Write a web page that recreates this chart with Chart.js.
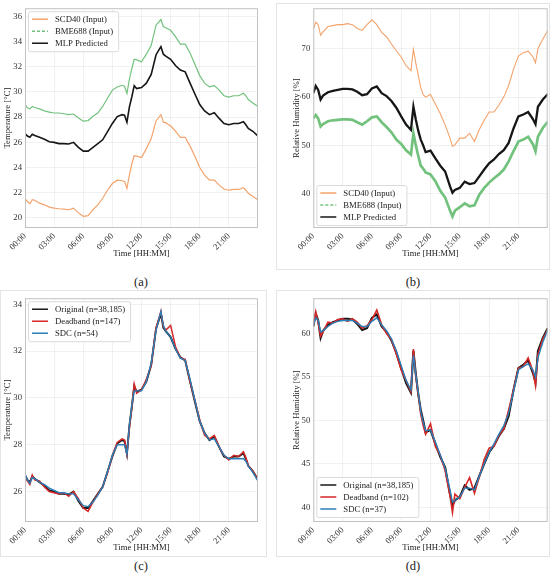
<!DOCTYPE html>
<html>
<head>
<meta charset="utf-8">
<script src="https://cdn.jsdelivr.net/npm/chart.js@4.4.1/dist/chart.umd.min.js"></script>
<style>
  html, body { margin: 0; padding: 0; background: #fff; }
  #page { position: relative; width: 550px; height: 584px; overflow: hidden; }
  canvas { position: absolute; }
  .frame { position: absolute; border: 1px solid #e4e4e4; box-sizing: border-box; }
  .sub { position: absolute; width: 60px; margin-left: -30px; line-height: 16px; text-align: center;
         font: 12.5px "Liberation Serif", serif; color: #222; }
</style>
</head>
<body>
<div id="page">
  <div class="frame" style="left:276px;top:3px;width:274px;height:267px"></div>
  <div class="frame" style="left:0;top:290px;width:267px;height:267px"></div>
  <div class="frame" style="left:276px;top:290px;width:274px;height:267px"></div>

  <canvas id="chartA" width="268" height="262" style="left:0;top:0"></canvas>
  <canvas id="chartB" width="274" height="262" style="left:276px;top:0"></canvas>
  <canvas id="chartC" width="268" height="266" style="left:0;top:290px"></canvas>
  <canvas id="chartD" width="274" height="266" style="left:276px;top:290px"></canvas>

  <div class="sub" style="left:141px;top:275px">(a)</div>
  <div class="sub" style="left:413px;top:275px">(b)</div>
  <div class="sub" style="left:141px;top:559px">(c)</div>
  <div class="sub" style="left:413px;top:559px">(d)</div>
</div>

<script>
// hora do dia (eixo x comum aos quatro gráficos)
const hours = [
  0, 0.25, 0.5, 0.75, 1,
  1.5, 2, 2.5, 3, 3.5, 4, 4.5, 5, 5.5,
  6, 6.5, 7, 7.5, 8, 8.5, 9, 9.5, 10,
  10.25, 10.5, 10.75, 11, 11.25, 11.5, 12,
  12.5, 13, 13.5, 14, 14.25, 14.5, 15, 15.5, 16,
  16.5, 17, 17.5, 18, 18.5, 19, 19.5, 20, 20.5,
  21, 21.5, 22, 22.5, 22.75, 23, 23.5, 24
];
const xTicks = [0, 3, 6, 9, 12, 15, 18, 21];

// (a) temperatura [°C]
const tempScd = [
  21.56, 21.30, 21.12, 21.45, 21.40,
  21.17, 21.04, 20.86, 20.78, 20.73, 20.70, 20.65, 20.78, 20.40,
  20.13, 20.18, 20.65, 21.04, 21.56, 22.20, 22.73, 23.00, 22.95,
  22.90, 22.34, 23.40, 24.30, 24.94, 24.90, 24.80,
  25.50, 26.30, 27.70, 28.20, 27.60, 27.55, 27.30, 26.90, 26.40,
  26.40, 25.70, 24.90, 24.00, 23.40, 23.00, 23.00, 22.60, 22.30,
  22.20, 22.26, 22.26, 22.40, 22.20, 21.95, 21.70, 21.43
];
const tempBme = [
  28.98, 28.75, 28.66, 28.85, 28.77,
  28.66, 28.50, 28.40, 28.33, 28.33, 28.27, 28.20, 28.25, 27.94,
  27.68, 27.73, 28.07, 28.33, 28.85, 29.50, 30.15, 30.40, 30.53,
  30.45, 29.88, 31.00, 31.84, 32.60, 32.55, 32.40,
  33.00, 33.70, 35.30, 35.75, 35.20, 35.10, 34.90, 34.40, 33.80,
  33.80, 33.10, 32.20, 31.30, 30.70, 30.40, 30.50, 30.15, 29.70,
  29.60, 29.70, 29.70, 29.90, 29.70, 29.40, 29.10, 28.85
];
const tempMlp = [
  26.70, 26.50, 26.40, 26.65, 26.55,
  26.40, 26.25, 26.05, 26.00, 25.90, 25.90, 25.87, 26.00, 25.60,
  25.30, 25.30, 25.60, 25.90, 26.20, 26.85, 27.50, 28.05, 28.20,
  28.15, 27.60, 28.80, 29.60, 30.50, 30.27, 30.35,
  30.70, 31.40, 32.96, 33.60, 33.00, 32.85, 32.60, 32.10, 31.74,
  31.60, 30.70, 29.84, 29.00, 28.50, 28.20, 28.35, 27.90, 27.50,
  27.40, 27.50, 27.50, 27.64, 27.40, 27.10, 26.86, 26.50
];

// (b) umidade relativa [%]
const humScd = [
  74.0, 75.5, 75.0, 72.8, 73.5,
  74.6, 74.8, 75.0, 75.0, 75.2, 75.0, 74.2, 73.8, 75.0,
  76.0, 75.0, 73.4, 72.5, 71.0, 69.6, 68.3, 66.5, 65.5,
  69.9, 67.0, 64.5, 62.0, 60.5, 60.0, 60.6,
  58.5, 56.6, 54.2, 51.5, 49.8, 50.1, 51.5, 51.5, 52.5,
  50.8, 53.3, 55.2, 56.9, 56.9, 58.3, 60.0, 62.4, 65.8,
  68.5, 69.2, 69.5, 68.3, 67.1, 70.0, 72.0, 73.8
];
const humBme = [
  55.6, 56.3, 55.6, 53.9, 54.4,
  55.0, 55.2, 55.3, 55.4, 55.4, 55.3, 54.8, 54.3, 55.0,
  55.8, 56.0, 54.8, 53.8, 52.7, 51.2, 50.3, 49.0, 48.1,
  52.5, 50.0, 47.8, 45.8, 45.2, 44.4, 44.0,
  42.6, 40.6, 39.2, 36.5, 35.3, 36.5, 37.2, 38.0, 37.4,
  37.6, 39.8, 41.2, 42.3, 43.2, 44.0, 45.0, 46.7, 48.8,
  50.8, 51.2, 51.8, 50.2, 48.8, 51.8, 53.6, 54.9
];
const humMlp = [
  60.8, 62.3, 61.5, 59.5, 60.3,
  61.0, 61.3, 61.5, 61.7, 61.7, 61.6, 61.1, 60.4, 60.6,
  61.8, 62.2, 60.8, 60.2, 59.2, 57.8, 56.0, 54.3, 53.2,
  58.0, 55.3, 53.0, 51.2, 50.0, 48.6, 48.9,
  47.3, 45.8, 44.6, 41.5, 40.2, 40.8, 41.2, 42.5, 42.0,
  42.2, 43.6, 45.0, 46.3, 47.1, 48.2, 49.0, 50.5, 53.5,
  56.0, 56.4, 56.9, 55.4, 54.4, 58.0, 59.5, 60.6
];

// (c) compressão da temperatura
const tempDeadband = [
  26.70, 26.45, 26.30, 26.70, 26.50,
  26.45, 26.20, 26.00, 25.95, 25.90, 25.95, 25.80, 26.00, 25.70,
  25.30, 25.15, 25.55, 25.90, 26.20, 26.80, 27.55, 28.10, 28.25,
  28.20, 27.60, 28.70, 29.60, 30.60, 30.20, 30.35,
  30.80, 31.40, 33.00, 33.70, 33.05, 32.90, 33.10, 32.20, 31.70,
  31.65, 30.70, 29.90, 29.05, 28.40, 28.25, 28.40, 27.90, 27.55,
  27.35, 27.55, 27.50, 27.70, 27.45, 27.10, 26.85, 26.50
];
const tempSdc = [
  26.75, 26.50, 26.35, 26.60, 26.55,
  26.40, 26.30, 26.15, 26.05, 25.95, 25.95, 25.90, 25.90, 25.65,
  25.40, 25.35, 25.55, 25.85, 26.20, 26.85, 27.55, 28.00, 28.00,
  28.00, 27.60, 28.80, 29.70, 30.30, 30.30, 30.30,
  30.70, 31.50, 32.90, 33.70, 33.10, 32.85, 32.60, 32.10, 31.70,
  31.60, 30.80, 29.90, 29.00, 28.50, 28.20, 28.25, 27.90, 27.55,
  27.40, 27.40, 27.40, 27.40, 27.30, 27.10, 26.80, 26.45
];

// (d) compressão da umidade
const humDeadband = [
  61.0, 62.5, 61.2, 59.7, 60.2,
  61.3, 61.2, 61.6, 61.7, 61.4, 61.7, 61.3, 60.6, 60.9,
  61.6, 62.7, 61.0, 60.0, 59.3, 57.6, 55.8, 54.6, 53.3,
  58.2, 55.0, 53.0, 50.7, 49.4, 48.4, 49.6,
  47.0, 46.0, 44.2, 41.3, 39.4, 41.5, 41.0, 42.3, 43.4,
  41.6, 43.5, 45.5, 46.8, 47.0, 48.3, 49.0, 51.2, 53.5,
  56.0, 56.2, 57.2, 55.6, 54.0, 57.6, 59.4, 60.4
];
const humSdc = [
  61.0, 61.8, 61.5, 60.2, 60.3,
  60.8, 61.2, 61.4, 61.5, 61.5, 61.5, 61.2, 60.8, 60.8,
  61.4, 61.8, 61.0, 60.3, 59.4, 58.0, 56.3, 54.6, 53.5,
  57.5, 55.2, 53.2, 51.0, 49.8, 48.8, 48.9,
  47.5, 46.0, 44.5, 42.0, 40.6, 40.8, 41.2, 42.2, 42.2,
  42.0, 43.6, 45.0, 46.3, 47.3, 48.4, 49.4, 50.8, 53.3,
  55.8, 56.2, 56.5, 55.8, 55.0, 57.2, 59.0, 60.4
];

const tempTicksA = [20, 22, 24, 26, 28, 30, 32, 34, 36];
const humTicksB = [40, 50, 60, 70];
const tempTicksC = [26, 28, 30, 32, 34];
const humTicksD = [40, 45, 50, 55, 60];

// Estilos
const SERIF = '"Liberation Serif", "Times New Roman", serif';
const ORANGE = '#f4a36c';
const GREEN = '#72c27e';
const BLACK = '#161616';
const RED = '#d62728';
const BLUE = '#2a7fb8';
const gridColor = 'rgba(0,0,0,0.07)';

function fmtHour(v) {
  return String(v).padStart(2, '0') + ':00';
}

// moldura do eixo + legenda em caixa (estilo matplotlib)
const boxLegend = {
  id: 'boxLegend',
  afterDraw(chart, args, opts) {
    const { ctx, chartArea: a } = chart;
    ctx.save();
    ctx.strokeStyle = '#c2c2c2';
    ctx.lineWidth = 1;
    ctx.strokeRect(a.left + 0.5, a.top + 0.5, a.right - a.left - 1, a.bottom - a.top - 1);

    const sets = chart.data.datasets;
    ctx.font = '8.7px ' + SERIF;
    const textW = Math.max(...sets.map(d => ctx.measureText(d.label).width));
    const w = 27 + textW + 5;
    const h = sets.length * 12 + 4;
    const x0 = a.left + 3;
    const y0 = opts.corner === 'bottom' ? a.bottom - opts.gap - h : a.top + opts.gap;

    ctx.beginPath();
    ctx.roundRect(x0 + 0.5, y0 + 0.5, w, h, 2);
    ctx.fillStyle = 'rgba(255,255,255,0.85)';
    ctx.fill();
    ctx.strokeStyle = '#dadada';
    ctx.stroke();

    sets.forEach((d, i) => {
      const yy = y0 + 8 + i * 12;
      ctx.beginPath();
      ctx.setLineDash(d.legendDash || []);
      ctx.strokeStyle = d.borderColor;
      ctx.lineWidth = 1.5;
      ctx.moveTo(x0 + 4, yy);
      ctx.lineTo(x0 + 20, yy);
      ctx.stroke();
      ctx.setLineDash([]);
      ctx.fillStyle = '#222';
      ctx.textBaseline = 'middle';
      ctx.textAlign = 'left';
      ctx.fillText(d.label, x0 + 27, yy + 0.5);
    });
    ctx.restore();
  }
};

function makeChart(id, cfg) {
  const ctx = document.getElementById(id).getContext('2d');
  const tickFont = { family: SERIF, size: 8.7 };
  const n = cfg.series.length;
  return new Chart(ctx, {
    type: 'line',
    data: {
      // a última série da lista fica por cima (como no matplotlib)
      datasets: cfg.series.map((s, i) => ({
        label: s.label,
        data: hours.map((hr, k) => ({ x: hr, y: s.values[k] })),
        borderColor: s.color,
        borderWidth: s.width,
        legendDash: s.dash,
        order: n - i,
        pointRadius: 0,
        tension: 0,
        fill: false
      }))
    },
    options: {
      responsive: false,
      animation: false,
      events: [],
      layout: { padding: { top: cfg.padTop, right: cfg.padRight, left: 0, bottom: 0 } },
      plugins: {
        legend: { display: false },
        tooltip: { enabled: false },
        boxLegend: { corner: cfg.corner, gap: cfg.legendGap }
      },
      scales: {
        x: {
          type: 'linear',
          min: 0,
          max: 24,
          afterBuildTicks: s => { s.ticks = xTicks.map(v => ({ value: v })); },
          afterFit: s => { s.height = 34; },
          grid: { color: gridColor, lineWidth: 0.8, drawTicks: false },
          border: { display: false },
          ticks: {
            autoSkip: false, minRotation: 45, maxRotation: 45, padding: 3,
            color: '#333', font: tickFont, callback: v => fmtHour(v)
          },
          title: {
            display: true, text: 'Time [HH:MM]', color: '#222',
            font: tickFont, padding: { top: 0, bottom: 2.8 }
          }
        },
        y: {
          min: cfg.yMin,
          max: cfg.yMax,
          afterBuildTicks: s => { s.ticks = cfg.yTicks.map(v => ({ value: v })); },
          afterFit: s => { s.width = cfg.yWidth; },
          grid: { color: gridColor, lineWidth: 0.8, drawTicks: false },
          border: { display: false },
          ticks: { padding: 3, color: '#333', font: tickFont, callback: v => String(v) },
          title: {
            display: true, text: cfg.yTitle, color: '#222',
            font: tickFont, padding: { top: cfg.yTitlePad, bottom: 0 }
          }
        }
      }
    },
    plugins: [boxLegend]
  });
}

makeChart('chartA', {
  yMin: 19.2, yMax: 36.65, yTicks: tempTicksA, yTitle: 'Temperature [°C]',
  yWidth: 25, yTitlePad: 2.8, padTop: 5, padRight: 10, corner: 'top', legendGap: 3,
  series: [
    { label: 'SCD40 (Input)', values: tempScd, color: ORANGE, width: 1.2 },
    { label: 'BME688 (Input)', values: tempBme, color: GREEN, width: 1.2, dash: [3, 2] },
    { label: 'MLP Predicted', values: tempMlp, color: BLACK, width: 1.6 }
  ]
});

makeChart('chartB', {
  yMin: 32.9, yMax: 78.4, yTicks: humTicksB, yTitle: 'Relative Humidity [%]',
  yWidth: 37.3, yTitlePad: 15.8, padTop: 5, padRight: 2.3, corner: 'bottom', legendGap: 3,
  series: [
    { label: 'SCD40 (Input)', values: humScd, color: ORANGE, width: 1.1 },
    { label: 'BME688 (Input)', values: humBme, color: GREEN, width: 2.7, dash: [3, 2] },
    { label: 'MLP Predicted', values: humMlp, color: BLACK, width: 2.3 }
  ]
});

makeChart('chartC', {
  yMin: 24.7, yMax: 34.26, yTicks: tempTicksC, yTitle: 'Temperature [°C]',
  yWidth: 25, yTitlePad: 2.8, padTop: 8, padRight: 10, corner: 'top', legendGap: 3,
  series: [
    { label: 'Original (n=38,185)', values: tempMlp, color: BLACK, width: 1.9 },
    { label: 'Deadband (n=147)', values: tempDeadband, color: RED, width: 1.5 },
    { label: 'SDC (n=54)', values: tempSdc, color: BLUE, width: 1.4 }
  ]
});

makeChart('chartD', {
  yMin: 38.3, yMax: 64.06, yTicks: humTicksD, yTitle: 'Relative Humidity [%]',
  yWidth: 37.3, yTitlePad: 15.8, padTop: 8, padRight: 2.3, corner: 'bottom', legendGap: 5,
  series: [
    { label: 'Original (n=38,185)', values: humMlp, color: BLACK, width: 2.1 },
    { label: 'Deadband (n=102)', values: humDeadband, color: RED, width: 1.6 },
    { label: 'SDC (n=37)', values: humSdc, color: BLUE, width: 1.4 }
  ]
});
</script>
</body>
</html>
